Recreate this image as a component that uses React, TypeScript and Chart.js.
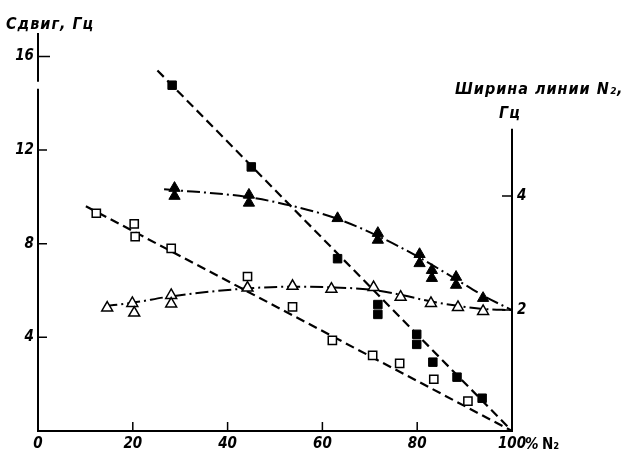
import React, { useEffect, useRef } from 'react';
import { Chart, registerables } from 'chart.js';
Chart.register(...registerables);

// ---- tick labels ----
const xTicks = [0, 20, 40, 60, 80, 100];
const leftTicks = [4, 8, 12, 16];
const rightTicks = [2, 4];

// ---- axis titles ----
const leftTitle = 'Сдвиг, Гц';
const rightTitle1 = 'Ширина линии N₂,';
const rightTitle2 = 'Гц';
const xUnit = '%';
const xUnit2 = 'N₂';

// ---- Shift (left axis): filled squares ----
const shiftFilledX = [28.3, 45.0, 63.2, 71.7, 71.7, 79.9, 79.9, 83.3, 88.4, 93.7];
const shiftFilledY = [14.77, 11.28, 7.36, 5.4, 4.98, 4.13, 3.7, 2.94, 2.3, 1.4];
const shiftFilledFitX = [25.2, 100];
const shiftFilledFitY = [15.4, 0];

// ---- Shift (left axis): open squares ----
const shiftOpenX = [12.3, 20.3, 20.5, 28.1, 44.2, 53.7, 62.1, 70.6, 76.3, 83.5, 90.7];
const shiftOpenY = [9.3, 8.85, 8.3, 7.8, 6.6, 5.3, 3.87, 3.23, 2.89, 2.21, 1.28];
const shiftOpenFitX = [10.1, 100];
const shiftOpenFitY = [9.6, 0];

// ---- Line width (right axis): filled triangles ----
const widthFilledX = [28.8, 28.8, 44.5, 44.5, 63.2, 71.7, 71.7, 80.5, 80.5, 83.1, 83.1, 88.2, 88.2, 93.9];
const widthFilledY = [4.14, 4.0, 4.02, 3.88, 3.61, 3.35, 3.23, 2.98, 2.82, 2.7, 2.56, 2.58, 2.44, 2.21];
const widthFilledFitX = [26.6, 44.5, 55, 63.2, 71.7, 80.5, 88, 94, 100];
const widthFilledFitY = [4.12, 3.98, 3.8, 3.6, 3.3, 2.92, 2.55, 2.25, 2.0];

// ---- Line width (right axis): open triangles ----
const widthOpenX = [14.6, 19.9, 20.3, 28.1, 28.1, 44.2, 53.7, 61.9, 70.8, 76.5, 82.9, 88.6, 93.9];
const widthOpenY = [2.04, 2.12, 1.95, 2.26, 2.11, 2.39, 2.42, 2.37, 2.4, 2.23, 2.12, 2.05, 1.98];
const widthOpenFitX = [14, 20, 28, 44, 54, 62, 71, 77, 83, 89, 94, 100];
const widthOpenFitY = [2.07, 2.13, 2.24, 2.38, 2.41, 2.4, 2.35, 2.26, 2.15, 2.07, 2.02, 2.0];

const DIGIT_FONT = "'Liberation Sans Narrow','DejaVu Sans Condensed','DejaVu Sans',sans-serif";
const TITLE_FONT = "'DejaVu Sans Condensed','DejaVu Sans',sans-serif";

const pts = (xs: number[], ys: number[]) => xs.map((x, i) => ({ x, y: ys[i] }));

const decor = {
  id: 'decor',
  afterDraw(chart: any) {
    const ctx = chart.ctx as any;
    const xs = chart.scales.x;
    const yl = chart.scales.y;
    const yr = chart.scales.y2;
    const { left, right, top, bottom } = chart.chartArea;
    ctx.save();
    ctx.strokeStyle = '#000';
    ctx.fillStyle = '#000';
    ctx.lineWidth = 2;
    ctx.beginPath();
    ctx.moveTo(left - 1, bottom);
    ctx.lineTo(right + 1, bottom);
    ctx.moveTo(left, top);
    ctx.lineTo(left, yl.getPixelForValue(14.92));
    ctx.moveTo(left, yl.getPixelForValue(14.62));
    ctx.lineTo(left, bottom);
    ctx.moveTo(right, yr.getPixelForValue(5.18));
    ctx.lineTo(right, bottom);
    ctx.stroke();

    ctx.lineWidth = 1.5;
    ctx.beginPath();
    xTicks.forEach((v) => {
      if (v === 0 || v === 100) return;
      const px = xs.getPixelForValue(v);
      ctx.moveTo(px, bottom);
      ctx.lineTo(px, bottom - 9);
    });
    leftTicks.forEach((v) => {
      const py = yl.getPixelForValue(v);
      ctx.moveTo(left, py);
      ctx.lineTo(left + (v === 16 ? 12 : 9), py);
    });
    rightTicks.forEach((v) => {
      const py = yr.getPixelForValue(v);
      ctx.moveTo(right, py);
      ctx.lineTo(right - 10, py);
    });
    ctx.stroke();

    // unit after the 100 label
    const p100 = xs.getPixelForValue(100);
    ctx.textBaseline = 'alphabetic';
    ctx.textAlign = 'left';
    ctx.font = `italic bold 15px ${DIGIT_FONT}`;
    ctx.fillText(xUnit, p100 + 13, bottom + 18);
    ctx.font = `bold 15px ${TITLE_FONT}`;
    ctx.fillText(xUnit2, p100 + 30, bottom + 18);

    // titles
    ctx.letterSpacing = '1px';
    ctx.font = `italic bold 16px ${TITLE_FONT}`;
    ctx.fillText(leftTitle, 6, 29);
    ctx.fillText(rightTitle1, 455, 94);
    ctx.textAlign = 'center';
    ctx.fillText(rightTitle2, right - 2, 118);
    ctx.restore();
  },
};

export default function App() {
  const ref = useRef<HTMLCanvasElement>(null);
  useEffect(() => {
    const canvas = ref.current;
    if (!canvas) return;
    const tickFont = { family: DIGIT_FONT, size: 15, style: 'italic' as const, weight: 'bold' as const };
    const chart = new Chart(canvas, {
      type: 'line',
      data: {
        datasets: [
          {
            type: 'scatter',
            data: pts(shiftFilledX, shiftFilledY),
            yAxisID: 'y',
            pointStyle: 'rect',
            pointRadius: 6,
            backgroundColor: '#000',
            borderColor: '#000',
            borderWidth: 1,
            order: 0,
          },
          {
            type: 'scatter',
            data: pts(shiftOpenX, shiftOpenY),
            yAxisID: 'y',
            pointStyle: 'rect',
            pointRadius: 5.8,
            backgroundColor: '#fff',
            borderColor: '#000',
            borderWidth: 1.5,
            order: 0,
          },
          {
            type: 'scatter',
            data: pts(widthFilledX, widthFilledY),
            yAxisID: 'y2',
            pointStyle: 'triangle',
            pointRadius: 6.5,
            backgroundColor: '#000',
            borderColor: '#000',
            borderWidth: 1,
            order: 0,
          },
          {
            type: 'scatter',
            data: pts(widthOpenX, widthOpenY),
            yAxisID: 'y2',
            pointStyle: 'triangle',
            pointRadius: 6.3,
            backgroundColor: '#fff',
            borderColor: '#000',
            borderWidth: 1.5,
            order: 0,
          },
          {
            type: 'line',
            data: pts(shiftFilledFitX, shiftFilledFitY),
            yAxisID: 'y',
            borderColor: '#000',
            borderWidth: 2.2,
            borderDash: [9, 5],
            pointRadius: 0,
            fill: false,
            order: 1,
          },
          {
            type: 'line',
            data: pts(shiftOpenFitX, shiftOpenFitY),
            yAxisID: 'y',
            borderColor: '#000',
            borderWidth: 2.2,
            borderDash: [9, 5],
            pointRadius: 0,
            fill: false,
            order: 1,
          },
          {
            type: 'line',
            data: pts(widthFilledFitX, widthFilledFitY),
            yAxisID: 'y2',
            borderColor: '#000',
            borderWidth: 2,
            borderDash: [13, 4, 2, 4],
            pointRadius: 0,
            cubicInterpolationMode: 'monotone',
            fill: false,
            order: 1,
          },
          {
            type: 'line',
            data: pts(widthOpenFitX, widthOpenFitY),
            yAxisID: 'y2',
            borderColor: '#000',
            borderWidth: 2,
            borderDash: [13, 4, 2, 4],
            pointRadius: 0,
            cubicInterpolationMode: 'monotone',
            fill: false,
            order: 1,
          },
        ],
      },
      options: {
        responsive: false,
        animation: false,
        devicePixelRatio: 1,
        layout: { padding: { top: 33, left: 0, right: 0, bottom: 0 } },
        plugins: { legend: { display: false }, tooltip: { enabled: false }, title: { display: false } },
        scales: {
          x: {
            type: 'linear',
            position: 'bottom',
            min: 0,
            max: 100,
            grid: { display: false, drawTicks: false },
            border: { display: false },
            afterBuildTicks: (s: any) => { s.ticks = xTicks.map((v) => ({ value: v })); },
            afterFit: (s: any) => { s.height = 23; },
            ticks: { color: '#000', font: tickFont, padding: 4, maxRotation: 0, autoSkip: false },
          },
          y: {
            type: 'linear',
            position: 'left',
            min: 0,
            max: 17,
            grid: { display: false, drawTicks: false },
            border: { display: false },
            afterBuildTicks: (s: any) => { s.ticks = leftTicks.map((v) => ({ value: v })); },
            afterFit: (s: any) => { s.width = 38; },
            ticks: { color: '#000', font: tickFont, padding: 4, autoSkip: false },
          },
          y2: {
            type: 'linear',
            position: 'right',
            min: -0.12,
            max: 6.86,
            grid: { display: false, drawTicks: false },
            border: { display: false },
            afterBuildTicks: (s: any) => { s.ticks = rightTicks.map((v) => ({ value: v })); },
            afterFit: (s: any) => { s.width = 115; },
            ticks: { color: '#000', font: tickFont, padding: 5, autoSkip: false },
          },
        },
      },
      plugins: [decor],
    } as any);
    return () => chart.destroy();
  }, []);
  return (
    <div style={{ position: 'absolute', left: 0, top: 0, width: 627, height: 454 }}>
      <canvas ref={ref} width={627} height={454} style={{ display: 'block', width: 627, height: 454 }} />
    </div>
  );
}
